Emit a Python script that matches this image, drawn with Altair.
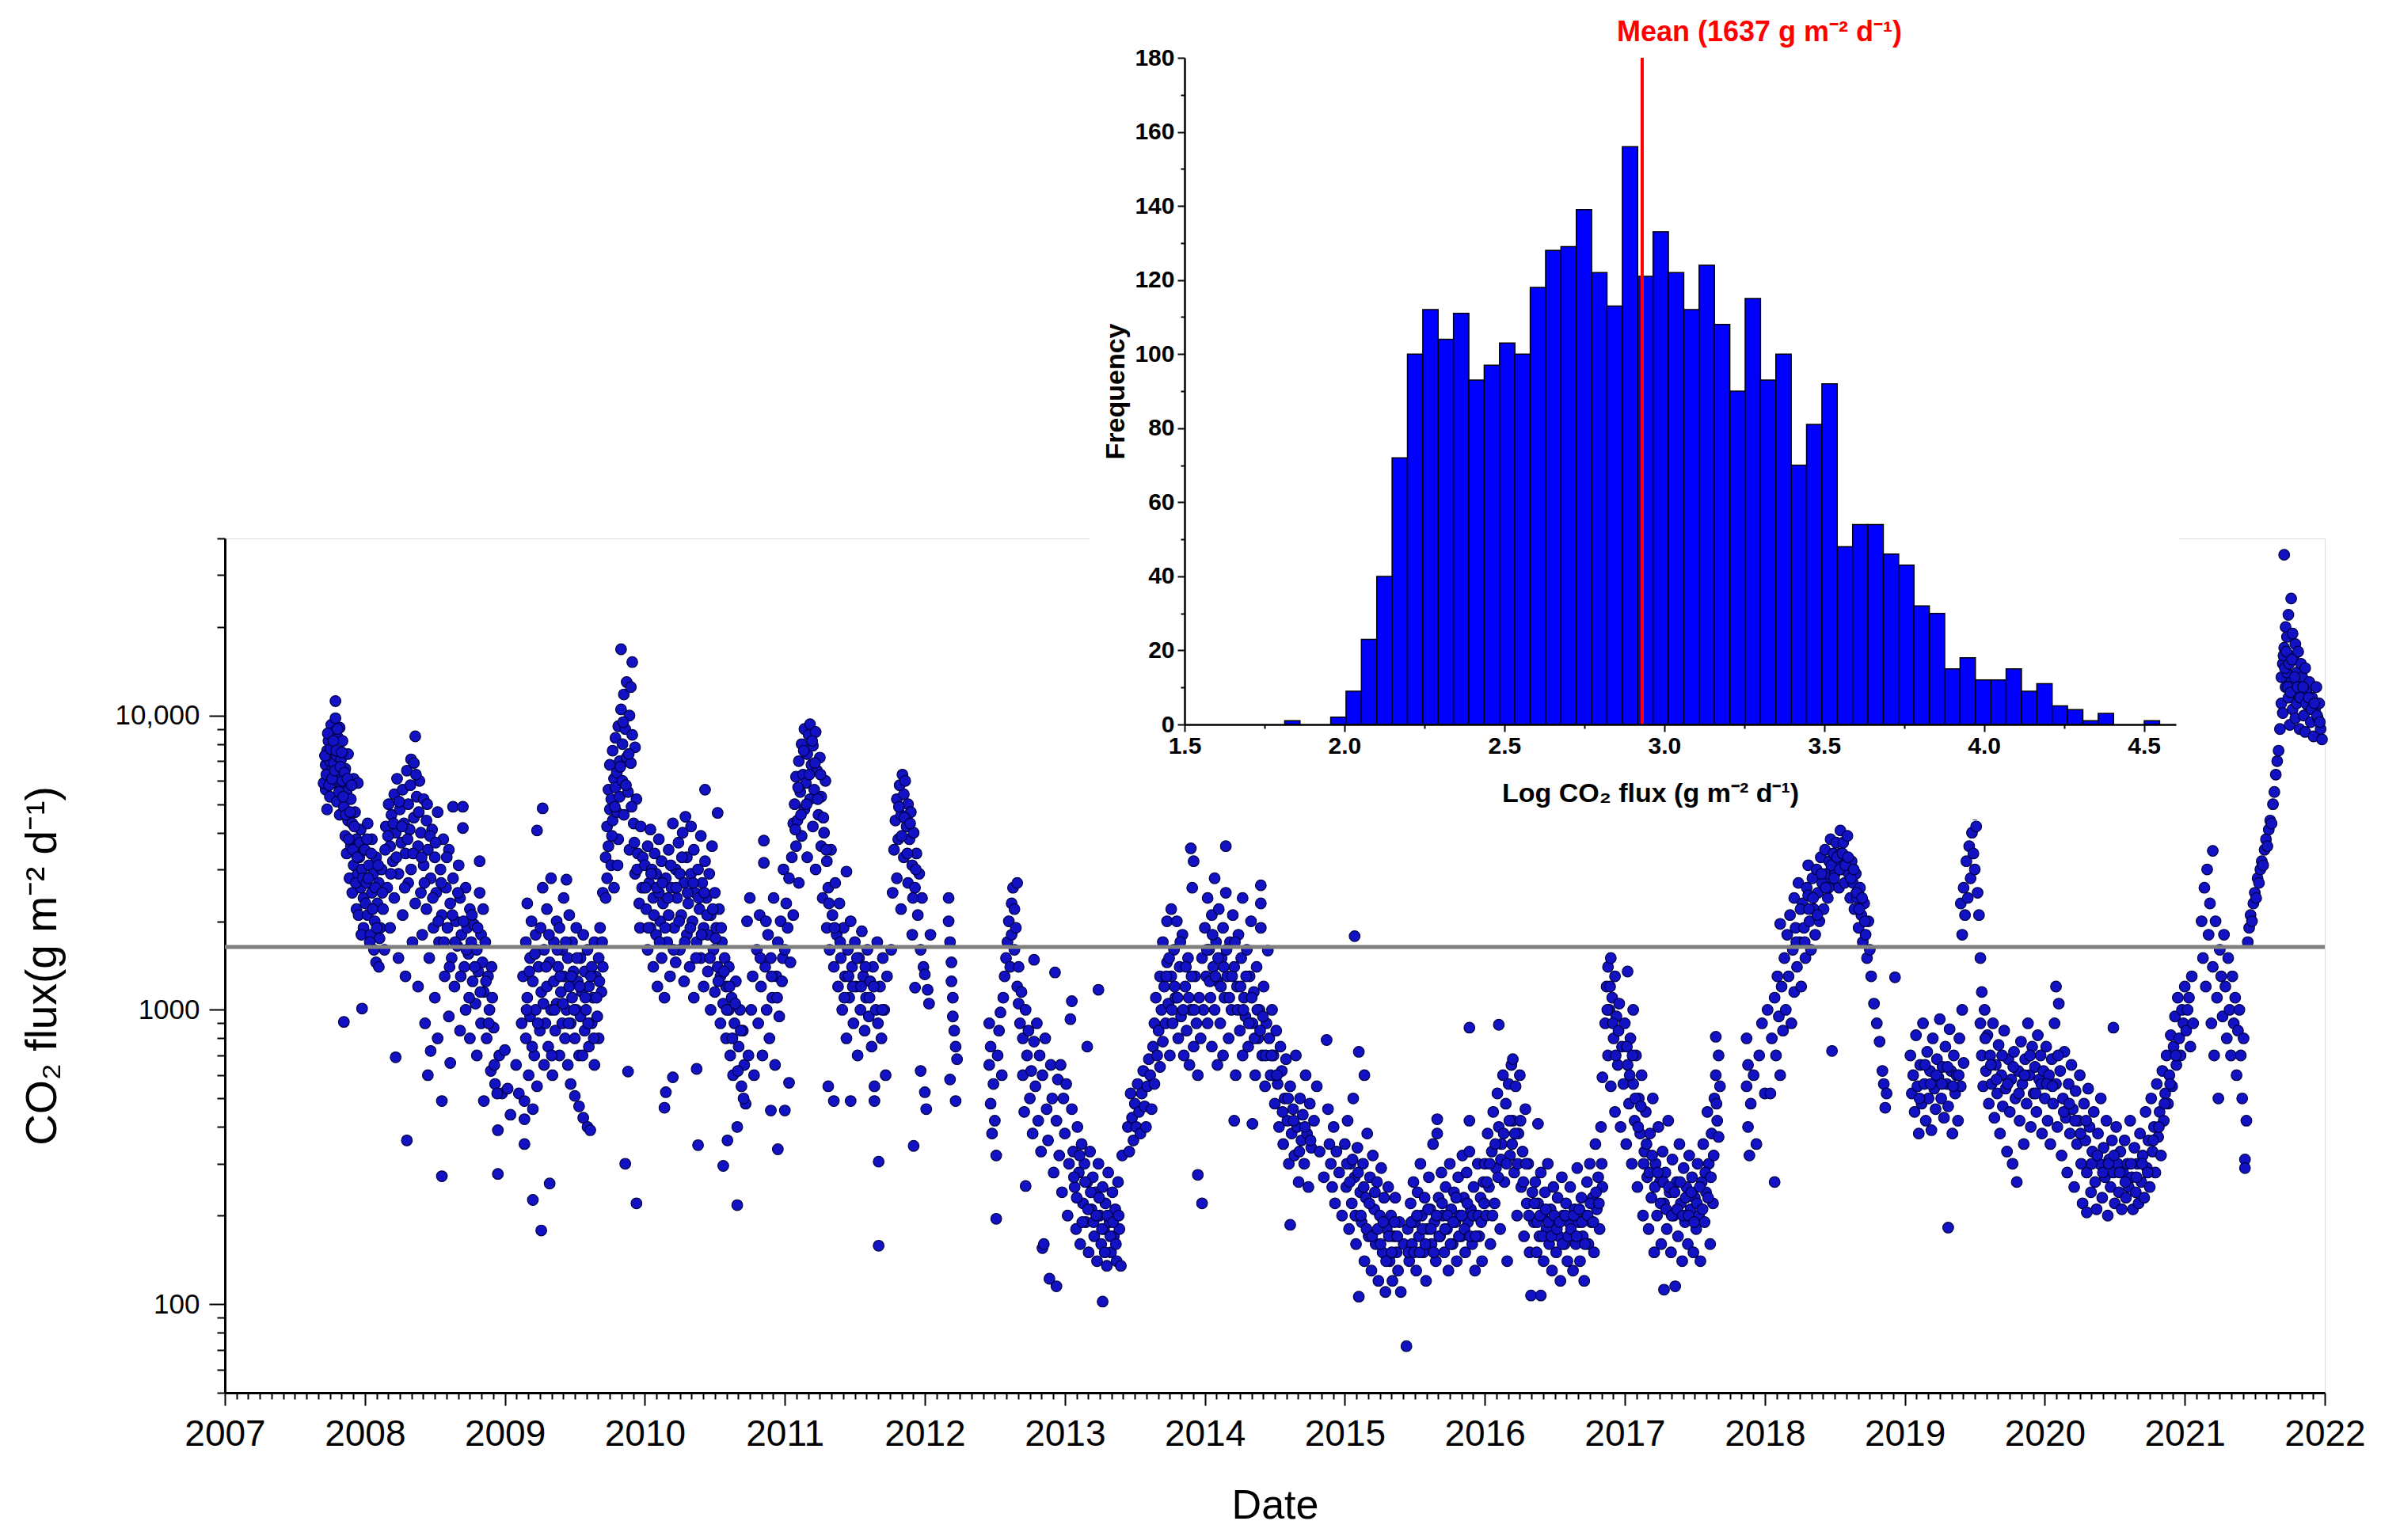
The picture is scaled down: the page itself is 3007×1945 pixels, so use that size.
import altair as alt
import pandas as pd

# ---------------- main time series (decimal year, CO2 flux g m-2 d-1) ----------------
s2007 = [(2007.72,6800),(2007.72,5600),(2007.73,7600),(2007.73,4800),(2007.74,6200),(2007.74,8200),(2007.75,7000),(2007.75,5300),(2007.76,9300),(2007.76,6500),(2007.77,7800),(2007.77,5900),(2007.78,8800),(2007.78,6900),(2007.79,11200),(2007.79,9800),(2007.80,7300),(2007.80,5100),(2007.81,8400),(2007.81,6300),(2007.82,9100),(2007.82,4600),(2007.83,7100),(2007.83,5700),(2007.84,8200),(2007.84,6000),(2007.85,4900),(2007.85,910),(2007.86,6600),(2007.86,3900),(2007.87,5500),(2007.87,3400),(2007.88,7400),(2007.88,4400),(2007.89,6000),(2007.89,2800),(2007.90,5200),(2007.90,3600),(2007.91,4300),(2007.91,2500),(2007.92,6100),(2007.92,3100),(2007.93,4700),(2007.94,3800),(2007.94,2200),(2007.95,5900),(2007.95,2900),(2007.96,3300),(2007.97,2600),(2007.97,4100),(2007.98,1010),(2007.98,3000),(2007.99,2400),(2007.99,1900),
         (2007.705,5900),(2007.715,7300),(2007.725,6300),(2007.735,8700),(2007.745,5800),(2007.755,7700),(2007.765,6100),(2007.775,8200),(2007.785,6500),(2007.795,7600),(2007.805,9000),(2007.815,5500),(2007.825,6700),(2007.835,7500),(2007.845,5300),(2007.855,6400),(2007.865,4600),(2007.875,6100),(2007.885,3800),(2007.895,4700),(2007.905,5800),(2007.915,3500),(2007.925,4200),(2007.935,2700),(2007.945,3300),(2007.955,2100),(2007.965,3700),(2007.975,1800),(2007.985,2800),(2007.995,3500)]

s2008 = [(2008.00,3500),(2008.01,2700),(2008.02,4300),(2008.02,2100),(2008.03,3100),(2008.04,1800),(2008.05,2500),(2008.05,3800),(2008.06,2900),(2008.07,2000),(2008.08,1450),(2008.08,3300),(2008.09,2300),(2008.10,1400),(2008.10,2700),(2008.11,1900),(2008.12,3000),(2008.13,2200),(2008.14,1600),(2008.15,4200),(2008.16,2600),(2008.17,5000),(2008.18,3600),(2008.18,1900),(2008.19,4600),(2008.20,3200),(2008.21,5400),(2008.21,2400),(2008.22,690),(2008.22,4000),(2008.23,6100),(2008.24,2900),(2008.24,1500),(2008.25,4800),(2008.26,3700),(2008.27,5600),(2008.27,2100),(2008.28,4300),(2008.29,1300),(2008.29,3400),(2008.30,6500),(2008.30,360),(2008.31,5000),(2008.31,2700),(2008.32,4100),(2008.33,7100),(2008.33,3000),(2008.34,1700),(2008.35,6900),(2008.35,4500),(2008.36,8500),(2008.36,2300),(2008.37,5300),(2008.38,3600),(2008.38,1200),(2008.39,6000),(2008.40,4000),(2008.40,2500),(2008.41,1800),(2008.42,5200),(2008.42,3100),(2008.43,900),(2008.44,4400),(2008.44,2200),(2008.45,600),(2008.45,3500),(2008.46,1500),(2008.47,725),(2008.47,2800),(2008.48,4100),(2008.49,1900),(2008.50,3300),(2008.50,1100),(2008.51,2500),(2008.52,4700),(2008.52,800),(2008.53,1700),(2008.54,3000),(2008.55,490),(2008.55,272),(2008.55,2100),(2008.56,3800),(2008.57,1300),(2008.58,2600),(2008.59,1900),(2008.60,950),(2008.60,3500),(2008.61,660),(2008.61,2300),(2008.62,1500),(2008.63,4900),(2008.63,2800),(2008.64,1200),(2008.65,2000),(2008.66,1650),(2008.67,3100),(2008.68,850),(2008.68,2400),(2008.69,1800),(2008.70,4900),(2008.70,4150),(2008.71,1400),(2008.72,2600),(2008.72,1000),(2008.73,1900),(2008.74,1550),(2008.75,2200),(2008.75,800),(2008.76,1700),(2008.77,1250),(2008.78,1950),(2008.79,1050),(2008.80,1600),(2008.80,700),(2008.81,1350),(2008.82,3200),(2008.82,2500),(2008.83,1800),(2008.83,900),(2008.84,1450),(2008.85,490),(2008.85,1150),(2008.86,1700),(2008.87,800),(2008.88,1300),(2008.89,1000),(2008.90,620),(2008.91,1100),(2008.92,870),(2008.93,560),(2008.95,390),(2008.95,277),(2008.96,700),(2008.98,520),(2009.00,730),(2009.02,540),(2009.04,440),
         (2008.005,2300),(2008.015,3800),(2008.025,2800),(2008.035,1700),(2008.045,3400),(2008.055,2200),(2008.065,1600),(2008.075,2600),(2008.085,1900),(2008.095,3100),(2008.105,1750),(2008.125,2500),(2008.145,3500),(2008.165,3900),(2008.185,2900),(2008.205,4300),(2008.225,3300),(2008.245,5100),(2008.265,4200),(2008.285,2600),(2008.305,3800),(2008.325,5800),(2008.345,3400),(2008.365,6300),(2008.385,4700),(2008.405,3300),(2008.425,2700),(2008.445,5000),(2008.465,3900),(2008.485,2400),(2008.505,3700),(2008.525,2000),(2008.545,2700),(2008.565,1700),(2008.585,3300),(2008.605,1400),(2008.625,2100),(2008.645,1700),(2008.665,2500),(2008.685,1300),(2008.705,2000),(2008.725,1600),(2008.745,1100),(2008.765,2100),(2008.785,1400),(2008.805,1900),(2008.825,1150),(2008.845,2200),(2008.865,1250),(2008.885,900),(2008.905,1400),(2008.925,650),(2008.945,520)]

s2009 = [(2009.08,650),(2009.10,520),(2009.12,900),(2009.13,1300),(2009.14,425),(2009.14,350),(2009.14,490),(2009.15,1700),(2009.15,800),(2009.16,2300),(2009.16,1100),(2009.17,600),(2009.18,1500),(2009.18,950),(2009.19,2000),(2009.20,460),(2009.20,226),(2009.20,1250),(2009.21,700),(2009.22,1800),(2009.22,1000),(2009.23,4070),(2009.23,550),(2009.24,1400),(2009.25,850),(2009.26,178),(2009.26,1150),(2009.27,4840),(2009.27,2600),(2009.28,650),(2009.28,1600),(2009.29,900),(2009.30,1200),(2009.30,2200),(2009.31,750),(2009.32,257),(2009.32,1450),(2009.33,1000),(2009.33,2800),(2009.34,600),(2009.35,1700),(2009.35,1250),(2009.36,850),(2009.37,2000),(2009.37,1050),(2009.38,1400),(2009.39,700),(2009.39,1900),(2009.40,1150),(2009.41,900),(2009.41,1600),(2009.42,2400),(2009.42,1300),(2009.43,800),(2009.44,2770),(2009.44,1000),(2009.45,1500),(2009.45,650),(2009.46,2100),(2009.46,1200),(2009.47,560),(2009.47,900),(2009.48,1700),(2009.48,1100),(2009.49,1350),(2009.50,800),(2009.50,510),(2009.51,1900),(2009.51,1000),(2009.52,1250),(2009.53,470),(2009.53,700),(2009.54,1500),(2009.54,950),(2009.55,1150),(2009.56,430),(2009.56,1800),(2009.57,850),(2009.57,1350),(2009.58,1000),(2009.59,400),(2009.59,1600),(2009.60,1200),(2009.60,750),(2009.61,390),(2009.62,1400),(2009.62,900),(2009.63,1100),(2009.64,1700),(2009.64,650),(2009.65,1300),(2009.66,950),(2009.67,1500),(2009.67,800),(2009.68,1900),(2009.69,1150),(2009.70,2500),(2009.70,1400),
         (2009.72,2400),(2009.72,3300),(2009.73,4200),(2009.73,2800),(2009.74,5600),(2009.74,3600),(2009.75,4800),(2009.75,6800),(2009.76,3100),(2009.76,5200),(2009.77,7600),(2009.77,4400),(2009.78,6100),(2009.78,2600),(2009.79,5700),(2009.79,8400),(2009.80,4700),(2009.80,6400),(2009.81,9200),(2009.81,3800),(2009.82,7000),(2009.82,5300),(2009.83,16800),(2009.83,10500),(2009.84,8000),(2009.84,6000),(2009.85,11800),(2009.85,4600),(2009.86,9000),(2009.86,300),(2009.87,7200),(2009.87,13000),(2009.88,617),(2009.88,5500),(2009.89,10000),(2009.89,3500),(2009.90,12500),(2009.90,6900),(2009.91,15200),(2009.91,8600),(2009.92,4300),(2009.93,7800),(2009.93,2900),(2009.94,220),(2009.94,5200),(2009.95,3400),(2009.96,2300),(2009.97,4200),(2009.98,2600),
         (2009.155,1000),(2009.175,1350),(2009.195,750),(2009.215,1550),(2009.235,900),(2009.255,1900),(2009.275,1050),(2009.295,1400),(2009.315,1800),(2009.335,700),(2009.355,1000),(2009.375,1600),(2009.395,1300),(2009.415,1050),(2009.435,1700),(2009.455,900),(2009.475,1300),(2009.495,1000),(2009.515,1500),(2009.535,1200),(2009.555,700),(2009.575,1100),(2009.595,900),(2009.615,1300),(2009.635,800),(2009.655,1100),(2009.675,1250),(2009.695,1700),(2009.765,3900),(2009.785,4900),(2009.805,3100),(2009.825,6700),(2009.845,9500),(2009.865,5800),(2009.885,7400),(2009.905,4900),(2009.925,3700),(2009.945,3000),(2009.965,1900),(2009.985,3300)]

s2010 = [(2010.00,3100),(2010.01,2200),(2010.02,3600),(2010.02,1600),(2010.03,2700),(2010.04,4100),(2010.04,1900),(2010.05,3000),(2010.06,1400),(2010.06,2400),(2010.07,3400),(2010.08,1800),(2010.08,2900),(2010.09,1200),(2010.10,2500),(2010.10,3800),(2010.11,2000),(2010.12,1500),(2010.12,3200),(2010.13,2300),(2010.14,465),(2010.14,1100),(2010.15,525),(2010.15,2800),(2010.16,1700),(2010.17,3500),(2010.17,2100),(2010.18,1300),(2010.19,2600),(2010.20,590),(2010.20,4300),(2010.21,1900),(2010.22,3000),(2010.22,1450),(2010.23,2400),(2010.24,3700),(2010.25,1600),(2010.25,2900),(2010.26,2100),(2010.27,4000),(2010.28,1250),(2010.28,2700),(2010.29,4530),(2010.30,1800),(2010.30,3300),(2010.31,2300),(2010.32,1400),(2010.33,2900),(2010.33,4200),(2010.34,2000),(2010.35,1100),(2010.35,3500),(2010.36,2500),(2010.37,630),(2010.37,1700),(2010.38,347),(2010.38,3000),(2010.39,2200),(2010.40,1500),(2010.40,3900),(2010.41,2700),(2010.42,1200),(2010.42,1900),(2010.43,5600),(2010.43,3200),(2010.44,2400),(2010.45,1350),(2010.45,1800),(2010.46,2900),(2010.47,1000),(2010.47,2100),(2010.48,3600),(2010.49,1600),(2010.50,2500),(2010.50,1150),(2010.51,1900),(2010.52,4670),(2010.52,1400),(2010.53,2200),(2010.54,1300),(2010.54,900),(2010.55,1700),(2010.56,295),(2010.56,1050),(2010.57,1500),(2010.58,800),(2010.58,1200),(2010.59,360),(2010.60,1000),(2010.60,1400),(2010.61,700),(2010.62,1100),(2010.63,600),(2010.64,900),(2010.65,1250),(2010.66,400),(2010.66,217),(2010.67,750),(2010.68,1000),(2010.69,550),(2010.70,850),(2010.71,650),(2010.72,480),(2010.73,2000),(2010.74,700),(2010.75,2400),(2010.76,1000),(2010.77,1300),(2010.78,600),
         (2010.80,1600),(2010.81,900),(2010.82,2100),(2010.83,1200),(2010.84,700),(2010.85,3760),(2010.85,3160),(2010.86,1400),(2010.87,1000),(2010.88,1800),(2010.89,800),(2010.90,455),(2010.90,1500),(2010.91,1100),(2010.92,2400),(2010.93,650),(2010.94,1300),(2010.95,336),(2010.95,1700),(2010.96,950),(2010.97,2000),(2010.98,1250),(2010.99,3000),
         (2010.005,2600),(2010.025,1900),(2010.045,2900),(2010.065,2100),(2010.085,2600),(2010.105,1700),(2010.125,2700),(2010.145,1900),(2010.165,2400),(2010.185,3100),(2010.205,1600),(2010.225,2600),(2010.245,2000),(2010.265,3300),(2010.285,1700),(2010.305,2500),(2010.325,1900),(2010.345,2700),(2010.365,1500),(2010.385,2400),(2010.405,1800),(2010.425,2500),(2010.445,2100),(2010.465,1500),(2010.485,2200),(2010.505,1750),(2010.525,1250),(2010.545,1900),(2010.565,1350),(2010.585,1000),(2010.605,1200),(2010.625,800),(2010.645,1050),(2010.665,620),(2010.685,850),(2010.705,500),(2010.825,1500),(2010.865,2000),(2010.905,1300),(2010.945,1100),(2010.985,1500)]

s2011 = [(2011.00,455),(2011.00,1600),(2011.01,2300),(2011.02,1900),(2011.03,565),(2011.03,2800),(2011.04,1450),(2011.05,3300),(2011.06,2100),(2011.06,4300),(2011.07,5000),(2011.08,3600),(2011.08,6200),(2011.09,4400),(2011.10,7000),(2011.10,2700),(2011.11,5500),(2011.12,8000),(2011.12,3900),(2011.13,6300),(2011.14,4800),(2011.14,9000),(2011.15,5900),(2011.16,7400),(2011.16,3300),(2011.17,8600),(2011.18,9350),(2011.18,5200),(2011.19,6800),(2011.20,4200),(2011.20,7900),(2011.21,5600),(2011.22,8800),(2011.22,3000),(2011.23,6500),(2011.24,4600),(2011.25,7200),(2011.26,3600),(2011.26,5300),(2011.27,2400),(2011.28,4000),(2011.29,6000),(2011.30,3200),(2011.30,1900),(2011.31,550),(2011.31,2600),(2011.32,1600),(2011.33,3500),(2011.34,2100),(2011.35,490),(2011.35,1400),(2011.36,2700),(2011.37,1800),(2011.38,1200),(2011.39,2300),(2011.40,1500),(2011.41,1000),(2011.42,1900),(2011.43,1300),(2011.44,2950),(2011.44,800),(2011.45,1600),(2011.46,1100),(2011.47,490),(2011.47,2000),(2011.48,1400),(2011.49,900),(2011.50,1700),(2011.51,1200),(2011.52,700),(2011.53,1500),(2011.54,1000),(2011.55,1850),(2011.56,1300),(2011.57,850),(2011.58,1100),(2011.59,1600),(2011.60,950),(2011.61,1250),(2011.62,750),(2011.63,1400),(2011.64,550),(2011.64,490),(2011.65,1000),(2011.66,1700),(2011.67,305),(2011.67,158),(2011.68,1200),(2011.69,800),(2011.70,1500),(2011.71,1000),(2011.72,600),(2011.73,1300),
         (2011.76,1600),(2011.77,2500),(2011.78,3500),(2011.79,4400),(2011.80,2800),(2011.80,5200),(2011.81,3800),(2011.82,5800),(2011.83,4600),(2011.83,2200),(2011.84,6300),(2011.85,5400),(2011.85,3300),(2011.86,6000),(2011.87,4200),(2011.88,5000),(2011.88,2700),(2011.89,3800),(2011.90,4700),(2011.91,3100),(2011.91,1800),(2011.92,4000),(2011.92,345),(2011.93,2600),(2011.93,1190),(2011.94,3400),(2011.95,2100),(2011.96,2900),(2011.97,620),(2011.97,1600),(2011.98,2400),(2011.99,1400),
         (2011.075,4100),(2011.095,5700),(2011.115,4600),(2011.135,7600),(2011.155,5000),(2011.175,6300),(2011.195,8200),(2011.215,6900),(2011.235,5200),(2011.255,6300),(2011.275,4500),(2011.295,3500),(2011.315,2300),(2011.355,1900),(2011.395,1700),(2011.425,1100),(2011.455,1300),(2011.485,1200),(2011.515,1500),(2011.545,1200),(2011.575,1400),(2011.605,1100),(2011.635,1200),(2011.665,900),(2011.695,1000),(2011.815,4900),(2011.835,3900),(2011.855,4500),(2011.875,3400),(2011.895,4300),(2011.915,2400),(2011.935,3000)]

s2012 = [(2012.00,525),(2012.00,1320),(2012.01,460),(2012.02,1170),(2012.03,1050),(2012.04,1800),
         (2012.17,2400),(2012.17,2000),(2012.18,1700),(2012.18,580),(2012.19,1450),(2012.19,1250),(2012.20,1100),(2012.20,950),(2012.21,850),(2012.22,750),(2012.22,490),(2012.23,680),
         (2012.46,900),(2012.46,650),(2012.47,750),(2012.47,480),(2012.48,380),(2012.49,560),(2012.50,420),(2012.51,320),(2012.51,195),(2012.52,700),(2012.53,850),(2012.54,980),(2012.55,600),(2012.56,1100),(2012.57,1300),(2012.58,1500),(2012.59,1700),(2012.60,2000),(2012.61,1400),(2012.62,2300),(2012.62,1800),(2012.63,2600),(2012.64,1600),(2012.64,2200),(2012.65,1900),(2012.66,2700),(2012.66,1200),(2012.67,1400),(2012.67,1050),(2012.68,900),(2012.69,1150),(2012.70,800),
         (2012.70,600),(2012.71,450),(2012.72,252),(2012.72,1000),(2012.73,700),(2012.74,850),(2012.75,500),(2012.76,620),(2012.77,380),(2012.78,1480),(2012.78,780),(2012.79,550),(2012.80,900),(2012.81,420),(2012.82,700),(2012.83,330),(2012.84,155),(2012.84,600),(2012.85,160),(2012.86,800),(2012.87,460),(2012.88,360),(2012.89,122),(2012.90,650),(2012.91,500),(2012.92,280),(2012.93,1340),(2012.94,115),(2012.94,420),(2012.95,580),(2012.96,320),(2012.97,650),(2012.98,240),(2012.99,500)]

s2013 = [(2013.00,380),(2013.01,560),(2013.02,200),(2013.03,300),(2013.04,930),(2013.05,1070),(2013.05,460),(2013.06,330),(2013.07,250),(2013.08,180),(2013.09,400),(2013.10,280),(2013.11,160),(2013.12,350),(2013.13,220),(2013.14,300),(2013.15,190),(2013.16,750),(2013.16,260),(2013.17,150),(2013.18,330),(2013.19,210),(2013.20,270),(2013.21,170),(2013.22,240),(2013.23,140),(2013.24,1170),(2013.24,300),(2013.25,200),(2013.26,160),(2013.27,102),(2013.27,250),(2013.28,180),(2013.29,220),(2013.30,135),(2013.31,280),(2013.32,190),(2013.33,150),(2013.34,240),(2013.35,170),(2013.36,210),(2013.37,140),(2013.38,260),(2013.39,180),(2013.40,135),(2013.41,320),
         (2013.45,400),(2013.46,330),(2013.47,520),(2013.48,430),(2013.49,360),(2013.50,480),(2013.51,400),(2013.52,560),(2013.53,450),(2013.54,380),(2013.55,520),(2013.56,620),(2013.57,470),(2013.58,400),(2013.59,550),(2013.60,680),(2013.61,600),(2013.62,460),(2013.63,750),(2013.64,900),(2013.64,560),(2013.65,1100),(2013.66,700),(2013.67,850),(2013.68,1300),(2013.68,640),(2013.69,1000),(2013.70,1700),(2013.70,780),(2013.71,1200),(2013.72,900),(2013.73,2000),(2013.73,1450),(2013.74,1050),(2013.75,700),(2013.76,2200),(2013.76,1300),(2013.77,900),(2013.78,1600),(2013.79,1100),(2013.80,2000),(2013.81,800),(2013.82,1400),(2013.83,950),(2013.84,1800),(2013.85,700),(2013.86,1200),(2013.87,850),(2013.88,1500),(2013.89,650),(2013.90,3540),(2013.90,1000),(2013.91,2600),(2013.92,3200),(2013.92,750),(2013.93,1300),(2013.94,900),(2013.95,275),(2013.95,600),(2013.96,1100),(2013.97,800),(2013.98,220),(2013.98,1500),(2013.99,1000),
         (2013.065,270),(2013.085,230),(2013.105,320),(2013.125,190),(2013.145,260),(2013.165,210),(2013.185,240),(2013.205,190),(2013.225,200),(2013.245,230),(2013.265,180),(2013.285,150),(2013.305,200),(2013.325,170),(2013.345,190),(2013.365,160),(2013.385,200),(2013.725,1300),(2013.745,1500),(2013.765,1000),(2013.785,1200),(2013.805,1100),(2013.825,1700),(2013.845,1000),(2013.865,1400),(2013.885,1100),(2013.905,1300),(2013.925,1000)]

s2014 = [(2014.00,1900),(2014.01,1300),(2014.02,2400),(2014.02,900),(2014.03,1600),(2014.04,1100),(2014.05,2100),(2014.05,750),(2014.06,1400),(2014.07,2800),(2014.07,1000),(2014.08,1700),(2014.09,650),(2014.09,1250),(2014.10,2200),(2014.11,900),(2014.12,1500),(2014.13,1900),(2014.13,700),(2014.14,1100),(2014.15,3600),(2014.15,2500),(2014.16,1300),(2014.17,800),(2014.18,1700),(2014.19,1000),(2014.20,2100),(2014.21,420),(2014.21,1400),(2014.22,600),(2014.23,1200),(2014.24,1800),(2014.25,850),(2014.26,1500),(2014.27,2400),(2014.27,700),(2014.28,1100),(2014.29,950),(2014.30,1600),(2014.31,750),(2014.32,1300),(2014.33,2000),(2014.34,410),(2014.34,900),(2014.35,1150),(2014.36,600),(2014.37,1400),(2014.38,800),(2014.39,1000),(2014.40,2650),(2014.40,2300),(2014.40,1900),(2014.41,700),(2014.42,1200),(2014.43,550),(2014.44,900),
         (2014.45,1590),(2014.46,800),(2014.47,600),(2014.48,1000),(2014.49,700),(2014.50,480),(2014.51,850),(2014.52,560),(2014.53,400),(2014.54,750),(2014.55,620),(2014.56,350),(2014.57,500),(2014.58,680),(2014.59,420),(2014.60,300),(2014.61,186),(2014.61,550),(2014.62,380),(2014.63,460),(2014.64,320),(2014.65,700),(2014.66,400),(2014.67,260),(2014.68,500),(2014.69,360),(2014.70,440),(2014.71,300),(2014.72,600),(2014.73,380),(2014.74,250),(2014.75,480),(2014.76,340),(2014.78,420),(2014.80,550),(2014.82,330),(2014.85,270),(2014.87,790),(2014.88,460),(2014.89,350),(2014.90,300),(2014.91,250),(2014.92,400),(2014.93,220),(2014.94,330),(2014.96,280),(2014.98,200),
         (2014.015,1600),(2014.035,1250),(2014.055,1800),(2014.075,1300),(2014.095,1500),(2014.115,1200),(2014.135,1400),(2014.155,1600),(2014.175,1100),(2014.195,1300),(2014.215,1700),(2014.235,1000),(2014.255,1200),(2014.275,1000),(2014.295,1300),(2014.315,900),(2014.335,1100),(2014.355,800),(2014.375,1000),(2014.395,850),(2014.415,950),(2014.435,700),(2014.475,700),(2014.515,600),(2014.555,450),(2014.595,500),(2014.635,420),(2014.675,330),(2014.715,400),(2014.755,360)]

s2015 = [(2015.00,350),(2015.01,250),(2015.02,420),(2015.03,180),(2015.04,300),(2015.05,220),(2015.06,500),(2015.07,1780),(2015.07,270),(2015.08,160),(2015.09,340),(2015.10,106),(2015.10,720),(2015.11,240),(2015.12,190),(2015.13,300),(2015.14,600),(2015.14,140),(2015.15,230),(2015.16,380),(2015.17,170),(2015.18,270),(2015.19,130),(2015.20,320),(2015.21,210),(2015.22,160),(2015.23,260),(2015.24,120),(2015.25,200),(2015.26,290),(2015.27,150),(2015.28,230),(2015.29,110),(2015.30,180),(2015.31,250),(2015.32,140),(2015.33,200),(2015.34,120),(2015.35,170),(2015.36,230),(2015.37,150),(2015.38,130),(2015.39,190),(2015.40,110),(2015.42,160),(2015.44,72),
         (2015.45,180),(2015.46,140),(2015.47,220),(2015.48,160),(2015.49,260),(2015.50,190),(2015.51,130),(2015.52,240),(2015.53,170),(2015.54,300),(2015.55,200),(2015.56,150),(2015.57,230),(2015.58,120),(2015.59,180),(2015.60,270),(2015.61,210),(2015.62,160),(2015.63,350),(2015.64,190),(2015.65,140),(2015.66,425),(2015.66,380),(2015.67,230),(2015.68,170),(2015.69,280),(2015.70,200),(2015.71,150),(2015.72,250),(2015.73,180),(2015.74,130),(2015.75,300),(2015.76,210),(2015.77,160),(2015.78,240),(2015.79,190),(2015.80,140),(2015.81,270),(2015.82,200),(2015.83,170),(2015.84,320),(2015.85,230),(2015.86,150),(2015.87,280),(2015.88,190),(2015.89,870),(2015.89,420),(2015.89,330),(2015.90,210),(2015.91,160),(2015.92,250),(2015.93,130),(2015.94,200),(2015.95,300),(2015.96,170),(2015.97,230),(2015.98,140),(2015.99,260),
         (2015.015,300),(2015.035,260),(2015.055,310),(2015.075,200),(2015.095,280),(2015.115,200),(2015.135,250),(2015.155,180),(2015.175,220),(2015.195,170),(2015.215,240),(2015.235,180),(2015.255,160),(2015.275,190),(2015.295,140),(2015.315,170),(2015.335,150),(2015.355,190),(2015.375,170),(2015.455,150),(2015.475,190),(2015.495,150),(2015.515,200),(2015.535,150),(2015.555,180),(2015.575,160),(2015.595,210),(2015.615,180),(2015.635,150),(2015.655,200),(2015.675,170),(2015.695,220),(2015.715,180),(2015.735,200),(2015.755,160),(2015.775,190),(2015.795,230),(2015.815,170),(2015.835,200),(2015.855,180),(2015.875,220),(2015.895,170),(2015.915,200),(2015.935,170),(2015.955,200),(2015.975,190),(2015.995,220)]

s2016 = [(2016.00,300),(2016.01,200),(2016.02,380),(2016.03,250),(2016.04,160),(2016.05,330),(2016.06,450),(2016.07,220),(2016.08,290),(2016.09,520),(2016.10,890),(2016.10,400),(2016.11,180),(2016.12,350),(2016.13,600),(2016.14,260),(2016.15,480),(2016.16,140),(2016.17,560),(2016.18,320),(2016.19,650),(2016.20,680),(2016.20,420),(2016.21,280),(2016.22,550),(2016.23,200),(2016.24,380),(2016.25,600),(2016.26,250),(2016.27,330),(2016.28,170),(2016.29,460),(2016.30,220),(2016.31,300),(2016.32,150),(2016.33,107),(2016.34,240),
         (2016.35,190),(2016.36,260),(2016.37,150),(2016.38,410),(2016.38,220),(2016.39,170),(2016.40,107),(2016.40,280),(2016.41,200),(2016.42,140),(2016.43,240),(2016.44,180),(2016.45,300),(2016.46,160),(2016.47,210),(2016.48,130),(2016.49,250),(2016.50,190),(2016.51,150),(2016.52,230),(2016.53,170),(2016.54,120),(2016.55,270),(2016.56,200),(2016.57,160),(2016.58,220),(2016.59,140),(2016.60,190),(2016.61,250),(2016.62,170),(2016.63,130),(2016.64,210),(2016.65,160),(2016.66,290),(2016.67,190),(2016.68,140),(2016.69,230),(2016.70,170),(2016.71,120),(2016.72,200),(2016.73,260),(2016.74,160),(2016.75,300),(2016.76,190),(2016.77,230),(2016.78,150),(2016.79,350),(2016.80,210),(2016.81,270),(2016.82,180),(2016.83,400),(2016.84,590),(2016.84,250),
         (2016.86,900),(2016.87,1200),(2016.88,700),(2016.88,1400),(2016.89,1000),(2016.90,1500),(2016.90,550),(2016.91,1100),(2016.92,800),(2016.93,1300),(2016.93,450),(2016.94,950),(2016.95,650),(2016.96,1050),(2016.97,400),(2016.98,750),(2016.99,560),
         (2016.015,260),(2016.035,300),(2016.055,200),(2016.075,350),(2016.095,270),(2016.115,310),(2016.135,380),(2016.155,300),(2016.175,420),(2016.195,350),(2016.215,380),(2016.235,300),(2016.255,420),(2016.275,260),(2016.295,300),(2016.315,200),(2016.355,220),(2016.375,190),(2016.395,200),(2016.415,170),(2016.435,210),(2016.455,190),(2016.475,170),(2016.495,200),(2016.515,180),(2016.535,190),(2016.555,160),(2016.575,200),(2016.595,170),(2016.615,180),(2016.635,200),(2016.655,170),(2016.675,210),(2016.695,190),(2016.715,160),(2016.735,200),(2016.755,220),(2016.775,190),(2016.795,240),(2016.815,220),(2016.835,300),(2016.875,1000),(2016.895,1200),(2016.915,900),(2016.935,700),(2016.955,850)]

s2017 = [(2017.00,900),(2017.01,350),(2017.02,1350),(2017.02,650),(2017.03,480),(2017.04,800),(2017.05,300),(2017.06,1000),(2017.06,560),(2017.07,420),(2017.08,700),(2017.09,250),(2017.10,500),(2017.11,380),(2017.12,600),(2017.13,200),(2017.14,330),(2017.15,450),(2017.16,270),(2017.17,180),(2017.18,380),(2017.19,230),(2017.20,500),(2017.21,150),(2017.22,300),(2017.23,200),(2017.24,400),(2017.25,260),(2017.26,160),(2017.27,330),(2017.28,112),(2017.28,220),(2017.29,280),(2017.30,180),(2017.31,420),(2017.32,240),(2017.33,150),(2017.34,310),(2017.35,200),(2017.36,115),(2017.37,260),(2017.38,170),(2017.39,350),(2017.40,220),(2017.41,140),(2017.42,290),(2017.43,190),(2017.44,250),(2017.45,160),(2017.46,320),(2017.47,210),(2017.48,270),(2017.49,150),(2017.50,230),(2017.51,180),(2017.52,300),(2017.53,200),(2017.54,140),(2017.55,260),(2017.56,350),(2017.57,190),(2017.58,240),(2017.59,450),(2017.60,300),(2017.61,160),(2017.62,380),(2017.63,220),(2017.64,500),(2017.65,810),(2017.65,600),(2017.66,420),(2017.67,700),(2017.67,370),(2017.68,550),
         (2017.87,800),(2017.87,550),(2017.88,650),(2017.88,400),(2017.89,320),(2017.90,480),(2017.92,600),(2017.94,350),(2017.96,700),(2017.98,900),
         (2017.015,750),(2017.035,600),(2017.055,700),(2017.075,500),(2017.095,400),(2017.115,470),(2017.135,300),(2017.155,350),(2017.175,280),(2017.195,320),(2017.215,250),(2017.235,280),(2017.255,220),(2017.275,260),(2017.295,210),(2017.315,250),(2017.335,200),(2017.355,240),(2017.375,210),(2017.395,260),(2017.415,200),(2017.435,230),(2017.455,200),(2017.475,240),(2017.495,190),(2017.515,220),(2017.535,250),(2017.555,210),(2017.575,280),(2017.595,230),(2017.615,270),(2017.635,320),(2017.655,480)]

s2018 = [(2018.00,520),(2018.02,1000),(2018.04,520),(2018.05,800),(2018.07,260),(2018.07,1100),(2018.08,700),(2018.09,1300),(2018.10,950),(2018.11,1960),(2018.11,600),(2018.12,1200),(2018.13,850),(2018.14,1500),(2018.15,1000),(2018.16,1800),(2018.17,1300),(2018.18,2100),(2018.19,900),(2018.20,1600),(2018.21,2400),(2018.21,1150),(2018.22,1900),(2018.23,1400),(2018.24,2700),(2018.25,1700),(2018.26,1200),(2018.27,2300),(2018.28,1900),(2018.29,1500),(2018.30,2600),(2018.31,3100),(2018.31,2450),(2018.32,2000),(2018.33,1600),(2018.34,2800),(2018.35,2200),(2018.36,1800),(2018.37,3000),(2018.38,2500),(2018.39,2000),(2018.40,3300),(2018.41,2700),(2018.42,2200),(2018.43,3500),(2018.44,2900),(2018.45,2400),(2018.46,3200),(2018.47,3800),(2018.48,725),(2018.48,2700),(2018.49,3400),(2018.50,2900),(2018.51,3700),(2018.52,3100),(2018.53,2600),(2018.54,4070),(2018.54,3400),(2018.55,3000),(2018.56,3700),(2018.57,2700),(2018.58,3300),(2018.59,3900),(2018.60,2900),(2018.61,2400),(2018.62,3200),(2018.63,2700),(2018.64,2200),(2018.65,2900),(2018.66,2400),(2018.67,1900),(2018.68,2600),(2018.69,2100),(2018.70,1700),(2018.71,2300),(2018.72,1800),(2018.73,1500),(2018.74,2000),(2018.75,1600),(2018.76,1300),(2018.78,1050),(2018.80,900),(2018.82,780),(2018.84,620),(2018.85,560),(2018.86,465),(2018.87,520),(2018.93,1290),
         (2018.455,2600),(2018.475,3100),(2018.495,2800),(2018.515,3300),(2018.535,3000),(2018.555,3400),(2018.575,3100),(2018.595,3300),(2018.615,2800),(2018.635,3000),(2018.655,2500),(2018.675,2200),(2018.695,2400),(2018.715,2000),(2018.225,1700),(2018.255,2200),(2018.285,1700),(2018.315,2200),(2018.345,2400),(2018.375,2100),(2018.405,2900),(2018.435,2600)]

s2019 = [(2019.04,700),(2019.05,520),(2019.06,600),(2019.07,450),(2019.08,820),(2019.09,550),(2019.10,380),(2019.11,650),(2019.12,480),(2019.13,900),(2019.14,560),(2019.15,420),(2019.16,720),(2019.17,500),(2019.18,620),(2019.19,390),(2019.20,800),(2019.21,540),(2019.22,460),(2019.23,680),(2019.24,590),(2019.25,930),(2019.26,500),(2019.27,640),(2019.28,430),(2019.29,750),(2019.30,560),(2019.31,182),(2019.31,470),(2019.32,860),(2019.33,620),(2019.34,380),(2019.35,700),(2019.36,520),(2019.37,600),(2019.38,420),(2019.39,800),(2019.40,550),(2019.41,1000),(2019.42,660),
         (2019.40,2300),(2019.41,1800),(2019.42,2600),(2019.43,2100),(2019.44,3200),(2019.45,2400),(2019.46,3600),(2019.47,2800),(2019.48,4000),(2019.49,3400),(2019.50,4620),(2019.50,3000),(2019.51,4200),(2019.52,2500),(2019.53,2100),(2019.54,1500),(2019.55,1150),
         (2019.54,900),(2019.55,700),(2019.56,550),(2019.57,1000),(2019.58,620),(2019.59,820),(2019.60,480),(2019.61,700),(2019.62,560),(2019.63,900),(2019.64,430),(2019.65,650),(2019.66,520),(2019.67,760),(2019.68,380),(2019.69,600),(2019.70,470),(2019.71,850),(2019.72,540),(2019.73,330),(2019.74,680),(2019.75,450),(2019.76,580),(2019.77,300),(2019.78,720),(2019.79,500),(2019.80,260),(2019.81,620),(2019.82,420),(2019.83,780),(2019.84,560),(2019.85,350),(2019.86,680),(2019.87,480),(2019.88,900),(2019.89,600),(2019.90,400),(2019.91,750),(2019.92,520),(2019.93,640),(2019.94,450),(2019.95,820),(2019.96,580),(2019.97,700),(2019.98,380),(2019.99,620),
         (2019.105,500),(2019.145,650),(2019.185,560),(2019.225,600),(2019.265,560),(2019.305,640),(2019.345,550),(2019.385,600),(2019.575,800),(2019.615,650),(2019.655,580),(2019.695,700),(2019.735,560),(2019.775,640),(2019.815,520),(2019.855,600),(2019.895,700),(2019.935,520),(2019.975,560)]

s2020 = [(2020.00,500),(2020.01,750),(2020.02,420),(2020.03,600),(2020.04,350),(2020.05,680),(2020.06,480),(2020.07,900),(2020.08,1200),(2020.08,560),(2020.09,400),(2020.10,1050),(2020.11,620),(2020.12,320),(2020.13,500),(2020.14,720),(2020.15,430),(2020.16,280),(2020.17,560),(2020.18,380),(2020.19,650),(2020.20,460),(2020.21,250),(2020.22,530),(2020.23,350),(2020.24,420),(2020.25,600),(2020.26,300),(2020.27,220),(2020.28,480),(2020.29,360),(2020.30,205),(2020.30,280),(2020.31,540),(2020.32,400),(2020.33,240),(2020.34,330),(2020.35,450),(2020.36,260),(2020.37,210),(2020.38,380),(2020.39,300),(2020.40,500),(2020.41,230),(2020.42,340),(2020.43,270),(2020.44,420),(2020.45,200),(2020.46,310),(2020.47,250),(2020.48,360),(2020.49,870),(2020.49,280),(2020.50,220),(2020.51,400),(2020.52,300),(2020.53,240),(2020.54,330),(2020.55,210),(2020.56,280),(2020.57,360),(2020.58,230),(2020.59,300),(2020.60,250),(2020.61,420),(2020.62,270),(2020.63,210),(2020.64,340),(2020.65,240),(2020.66,300),(2020.67,220),(2020.68,380),(2020.69,260),(2020.70,320),(2020.71,230),(2020.72,450),(2020.73,290),(2020.74,360),(2020.75,250),(2020.76,500),(2020.77,330),(2020.78,400),(2020.79,280),(2020.80,560),(2020.81,370),(2020.82,450),(2020.83,320),(2020.84,620),(2020.85,420),(2020.86,520),(2020.87,700),(2020.88,480),(2020.89,600),(2020.90,820),(2020.91,550),(2020.92,750),(2020.93,950),(2020.94,650),(2020.95,1100),(2020.96,800),(2020.97,700),(2020.98,1000),(2020.99,900),
         (2020.015,560),(2020.055,550),(2020.095,700),(2020.135,450),(2020.175,480),(2020.215,420),(2020.255,380),(2020.295,420),(2020.335,300),(2020.375,320),(2020.415,280),(2020.455,300),(2020.495,320),(2020.535,280),(2020.575,260),(2020.615,300),(2020.655,270),(2020.695,300),(2020.735,280),(2020.775,360),(2020.815,400),(2020.855,480),(2020.895,560),(2020.935,700)]

s2021 = [(2021.00,1200),(2021.01,850),(2021.02,1000),(2021.03,1100),(2021.04,750),(2021.05,1300),(2021.06,900),
         (2021.12,2000),(2021.13,1500),(2021.14,2600),(2021.15,1200),(2021.16,3000),(2021.17,1800),(2021.18,2300),(2021.19,900),(2021.20,3470),(2021.20,1400),(2021.21,700),(2021.22,2000),(2021.23,1100),(2021.24,500),(2021.25,1600),(2021.26,1300),(2021.27,950),(2021.28,1800),(2021.29,1200),(2021.30,800),(2021.31,1500),(2021.32,1000),(2021.33,700),(2021.34,1300),(2021.35,900),(2021.36,1100),(2021.37,600),(2021.38,850),(2021.39,1000),(2021.40,700),(2021.41,500),(2021.42,800),(2021.43,310),(2021.43,290),(2021.44,420),
         (2021.45,1700),(2021.46,1900),(2021.47,2100),(2021.48,2000),(2021.49,2300),(2021.50,2500),(2021.51,2400),(2021.52,2800),(2021.53,2700),(2021.54,3000),(2021.55,3200),(2021.56,3100),(2021.57,3500),(2021.58,3800),(2021.59,3600),(2021.60,4100),(2021.61,4400),(2021.62,4300),(2021.63,5000),(2021.64,5500),(2021.65,6300),(2021.66,7000),(2021.67,7600),(2021.68,9000),(2021.69,11000),(2021.69,13500),(2021.70,15000),(2021.70,10200),(2021.71,35200),(2021.71,17000),(2021.72,12500),(2021.72,20000),(2021.73,14000),(2021.73,18500),(2021.74,11500),(2021.74,22000),(2021.75,16000),(2021.75,9300),(2021.76,25000),(2021.76,13000),(2021.77,19000),(2021.77,10500),(2021.78,15500),(2021.78,12000),(2021.79,17500),(2021.79,9800),(2021.80,14000),(2021.80,11000),(2021.81,16500),(2021.82,12800),(2021.82,9000),(2021.83,15000),(2021.84,11500),(2021.84,13500),(2021.85,10000),(2021.86,14500),(2021.86,8800),(2021.87,12000),(2021.88,10800),(2021.89,13000),(2021.90,9500),(2021.91,11500),(2021.92,8500),(2021.93,10500),(2021.94,12500),(2021.95,9800),(2021.96,11000),(2021.97,9000),(2021.98,8300),
         (2021.705,16000),(2021.715,14500),(2021.725,16500),(2021.735,12500),(2021.745,15000),(2021.755,12000),(2021.765,15500),(2021.785,13500),(2021.805,12500),(2021.825,11500),(2021.845,12500),(2021.865,11000),(2021.885,11500),(2021.905,10500),(2021.925,11000),(2021.945,10000),(2021.965,9500)]

mean_flux = 1637          # g m-2 d-1 (horizontal reference line)
mean_log = 2.931          # position of the red line in the histogram

# ---------------- histogram of log10 flux ----------------
hist_first_left = 1.813
hist_bin_width = 0.048
hist_counts = [1, 0, 0, 2,
               9, 23, 40, 72, 100, 112, 104, 111, 93, 97,
               103, 100, 118, 128, 129, 139, 122, 113, 156, 121,
               133, 122, 112, 124, 108, 90, 115, 93, 100, 70,
               81, 92, 48, 54, 54, 46, 43, 32, 30, 15,
               18, 12, 12, 15, 9, 11, 5, 4, 1, 3,
               0, 0, 1]

year_ticks = [round(2007 + m / 12, 5) for m in range(0, 15 * 12 + 1)]
flux_ticks = [50, 60, 70, 80, 90, 100, 200, 300, 400, 500, 600, 700, 800, 900,
              1000, 2000, 3000, 4000, 5000, 6000, 7000, 8000, 9000, 10000, 20000, 30000, 40000]
hist_x_ticks = [1.5, 1.75, 2.0, 2.25, 2.5, 2.75, 3.0, 3.25, 3.5, 3.75, 4.0, 4.25, 4.5]
hist_y_ticks = list(range(0, 190, 10))

# ---------------- frames ----------------
rows = []
for seg in [s2007, s2008, s2009, s2010, s2011, s2012, s2013, s2014, s2015,
            s2016, s2017, s2018, s2019, s2020, s2021]:
    for t, v in seg:
        rows.append({"year": t, "flux": v})
pts = pd.DataFrame(rows)

hrows = []
for i, c in enumerate(hist_counts):
    if c > 0:
        left = hist_first_left + i * hist_bin_width
        hrows.append({"left": left, "right": left + hist_bin_width, "count": c, "zero": 0})
hist = pd.DataFrame(hrows)

mean_df = pd.DataFrame([{"mlog": mean_log, "y0": 0, "y1": 180,
                         "label": f"Mean ({mean_flux} g m\u207b\u00b2 d\u207b\u00b9)",
                         "flux": mean_flux}])

# ---------------- layout (pixels) ----------------
W, H = 2652, 1079
HX0, HX1 = 1212, 2464     # inset x range (1.5 .. 4.6)
HY0, HY1 = 235, -607      # inset y range (0 .. 180)

FONT = "Liberation Sans, Arial, sans-serif"

major_year = "abs(datum.value - round(datum.value)) < 0.01"
major_flux = "datum.value == 100 || datum.value == 1000 || datum.value == 10000"

x_main = alt.X("year:Q",
    scale=alt.Scale(domain=[2007, 2022], nice=False, zero=False),
    axis=alt.Axis(title="Date", values=year_ticks, grid=False,
                  labelExpr=f"{major_year} ? format(round(datum.value), 'd') : ''",
                  tickSize={"condition": {"test": major_year, "value": 16}, "value": 8},
                  tickWidth=2, tickColor="black", domainColor="black", domainWidth=3,
                  labelFont=FONT, labelFontSize=46, labelColor="black", labelPadding=14,
                  labelOverlap=False, labelFlush=False,
                  titleFont=FONT, titleFontSize=52, titleFontWeight="normal",
                  titleColor="black", titlePadding=42))

y_main = alt.Y("flux:Q",
    scale=alt.Scale(type="log", domain=[50, 40000], nice=False),
    axis=alt.Axis(title="CO\u2082 flux(g m\u207b\u00b2 d\u207b\u00b9)", values=flux_ticks, grid=False,
                  labelExpr="datum.value == 10000 ? '10,000' : (datum.value == 1000 ? '1000' : (datum.value == 100 ? '100' : ''))",
                  tickSize={"condition": {"test": major_flux, "value": 20}, "value": 10},
                  tickWidth=2, tickColor="black", domainColor="black", domainWidth=3,
                  labelFont=FONT, labelFontSize=35, labelColor="black", labelPadding=12,
                  labelOverlap=False, labelFlush=False,
                  titleFont=FONT, titleFontSize=55, titleFontWeight="normal",
                  titleColor="black", titlePadding=62))

points = alt.Chart(pts).mark_point(filled=True, shape="circle", size=185, fill="#1212c4",
                                   stroke="#000045", strokeWidth=1.2, opacity=1).encode(x=x_main, y=y_main)
mean_line = alt.Chart(mean_df).mark_rule(color="#7f7f7f", strokeWidth=5).encode(y=alt.Y("flux:Q"))
main = alt.layer(points, mean_line)

# ---------------- inset ----------------
hx = alt.X("left:Q",
    scale=alt.Scale(domain=[1.5, 4.6], range=[HX0, HX1], nice=False, zero=False),
    axis=alt.Axis(orient="bottom", offset=HY0 - H, zindex=2,
                  title="Log CO\u2082 flux (g m\u207b\u00b2 d\u207b\u00b9)",
                  values=hist_x_ticks, grid=False,
                  labelExpr="abs(datum.value*2 - round(datum.value*2)) < 0.01 ? format(datum.value, '.1f') : ''",
                  tickSize={"condition": {"test": "abs(datum.value*2 - round(datum.value*2)) < 0.01", "value": 9}, "value": 5},
                  tickWidth=2, tickColor="black", domainColor="black", domainWidth=2.5,
                  labelFont=FONT, labelFontSize=30, labelFontWeight="bold", labelColor="black",
                  labelPadding=3, labelOverlap=False, labelFlush=False,
                  titleFont=FONT, titleFontSize=34, titleFontWeight="bold", titleColor="black",
                  titlePadding=28, titleX=1800))
hy = alt.Y("count:Q",
    scale=alt.Scale(domain=[0, 180], range=[HY0, HY1], nice=False, zero=False),
    axis=alt.Axis(orient="left", offset=-HX0, zindex=2, title="Frequency", values=hist_y_ticks, grid=False,
                  labelExpr="datum.value % 20 == 0 ? datum.value + '' : ''",
                  tickSize={"condition": {"test": "datum.value % 20 == 0", "value": 9}, "value": 5},
                  tickWidth=2, tickColor="black", domainColor="black", domainWidth=2.5,
                  labelFont=FONT, labelFontSize=30, labelFontWeight="bold", labelColor="black",
                  labelPadding=4, labelOverlap=False, labelFlush=False,
                  titleFont=FONT, titleFontSize=34, titleFontWeight="bold", titleColor="black",
                  titlePadding=6))

bg = alt.Chart(pd.DataFrame([{"k": 0}])).mark_rect(fill="white", strokeWidth=0).encode(
    x=alt.value(1092), x2=alt.value(2468), y=alt.value(-668), y2=alt.value(355))
bars = alt.Chart(hist).mark_rect(fill="#0000ff", stroke="black", strokeWidth=1.5).encode(
    x=hx, x2="right:Q", y=hy, y2="zero:Q")
red = alt.Chart(mean_df).mark_rule(color="#ff0000", strokeWidth=4).encode(
    x=alt.X("mlog:Q"), y=alt.Y("y0:Q"), y2="y1:Q")
red_text = alt.Chart(mean_df).mark_text(color="#ff0000", font=FONT, fontSize=36, fontWeight="bold",
                                        align="left", baseline="middle", dx=-32, dy=-32).encode(
    x=alt.X("mlog:Q"), y=alt.Y("y1:Q"), text="label:N")
inset = alt.layer(bg, bars, red, red_text)

chart = alt.layer(main, inset).resolve_scale(x="independent", y="independent").properties(
    width=W, height=H, padding={"left": 18, "top": 4, "right": 10, "bottom": 4}
).configure_view(stroke="black", strokeWidth=3).configure(background="white")

chart.save("out.html", embed_options={"renderer": "svg", "actions": False})
